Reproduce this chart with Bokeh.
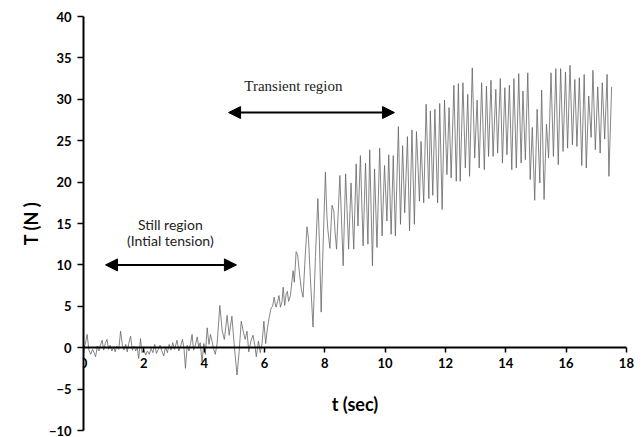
from bokeh.plotting import figure
from bokeh.models import Range1d, Arrow, NormalHead, Label, FixedTicker
from bokeh.embed import file_html
from bokeh.resources import INLINE

# ---- data ----
t_still = [0.00, 0.06, 0.12, 0.18, 0.24, 0.30, 0.35, 0.40, 0.46, 0.51, 0.56, 0.62, 0.67, 0.72, 0.78,
           0.83, 0.88, 0.94, 1.00, 1.05, 1.10, 1.17, 1.23, 1.29, 1.34, 1.40, 1.45, 1.50, 1.56, 1.62,
           1.68, 1.73, 1.78, 1.83, 1.89, 1.94, 2.00, 2.06, 2.12, 2.18, 2.24, 2.30, 2.36, 2.42, 2.48,
           2.54, 2.60, 2.66, 2.72, 2.78, 2.84, 2.90, 2.96, 3.02, 3.10, 3.16, 3.22, 3.28, 3.33, 3.38,
           3.44, 3.50, 3.55, 3.60, 3.65, 3.71, 3.77, 3.82, 3.87, 3.93, 3.99, 4.04, 4.10, 4.16, 4.21,
           4.26, 4.32, 4.37, 4.43]
T_still = [0.0, 0.4, 1.6, -0.3, -0.8, -0.2, -0.6, -1.1, 0.2, -0.4, 0.3, 0.9, -0.3, 0.5, 1.0,
           -0.2, 0.3, -0.4, 0.1, -0.5, 0.2, -0.2, 2.0, 0.3, -0.3, 0.4, -0.5, 0.5, 1.4, -0.3,
           0.2, -0.4, 0.1, -1.3, 1.1, -0.6, -0.2, -0.9, -0.4, -0.8, -0.1, -0.6, 0.4, -0.7, -0.2,
           0.3, -0.4, -1.0, 0.1, -0.6, 0.4, -0.3, 0.6, -0.2, 0.9, -0.4, 0.2, 1.0, 0.0, -2.5,
           0.3, -0.4, 0.5, 1.6, -0.3, 0.3, 1.3, 0.1, 0.6, -1.7, 0.5, -0.8, 2.4, 0.4, 1.6,
           0.8, -0.2, -0.8, 0.5]

t_transient = [4.52, 4.60, 4.67, 4.76, 4.83, 4.92, 5.00, 5.09, 5.16, 5.23, 5.30, 5.36, 5.42, 5.48,
               5.55, 5.62, 5.68, 5.73, 5.80, 5.86, 5.92, 5.98, 6.04, 6.10, 6.16, 6.22, 6.27, 6.32,
               6.38, 6.44, 6.48, 6.53, 6.58, 6.62, 6.67, 6.72, 6.76, 6.80, 6.86, 6.95, 6.99, 7.05,
               7.10, 7.16, 7.22, 7.28, 7.35, 7.41, 7.46, 7.52, 7.61, 7.69, 7.77, 7.82, 7.88, 7.95,
               8.02, 8.07, 8.10, 8.17, 8.24, 8.30, 8.34, 8.39, 8.50, 8.61, 8.69, 8.79, 8.87, 8.96,
               9.04, 9.10, 9.18, 9.27, 9.35, 9.43, 9.49, 9.58, 9.65, 9.73, 9.82, 9.90, 9.98, 10.06,
               10.12, 10.20, 10.27, 10.34, 10.44, 10.51, 10.58, 10.65, 10.74, 10.81, 10.89, 10.97]
T_transient = [5.1, 2.0, 1.0, 3.9, 1.5, 3.8, 0.2, -3.3, -0.5, 3.2, 1.9, 1.0, 2.0, -0.5,
               0.8, 1.5, 0.3, -1.1, 0.8, -0.6, 0.5, 3.2, 0.5, 2.4, 3.7, 4.8, 5.0, 6.1,
               4.9, 5.6, 6.3, 4.9, 5.5, 7.3, 5.1, 6.5, 6.8, 5.6, 6.3, 9.3, 7.9, 11.6,
               11.2, 9.0, 7.1, 6.1, 11.0, 14.6, 13.2, 8.5, 2.5, 11.0, 18.0, 13.0, 4.3, 13.0,
               21.2, 16.0, 14.3, 12.0, 17.2, 16.5, 14.0, 11.9, 20.8, 9.9, 21.0, 11.9, 19.9, 11.9,
               22.2, 14.7, 23.2, 12.3, 22.3, 12.5, 23.9, 9.9, 21.6, 12.1, 24.1, 13.5, 22.0, 15.3,
               23.3, 13.7, 23.2, 13.5, 26.7, 14.9, 24.4, 16.3, 25.5, 14.1, 26.3, 14.9]

t_steady = [11.04, 11.14, 11.19, 11.28, 11.36, 11.45, 11.50, 11.58, 11.65, 11.74, 11.81, 11.89,
            11.97, 12.05, 12.12, 12.19, 12.28, 12.36, 12.43, 12.49, 12.58, 12.66, 12.74, 12.80,
            12.89, 12.97, 13.05, 13.12, 13.20, 13.29, 13.36, 13.43, 13.51, 13.58, 13.67, 13.73,
            13.82, 13.89, 13.97, 14.04, 14.12, 14.20, 14.27, 14.35, 14.43, 14.51, 14.57, 14.65,
            14.73, 14.81, 14.88, 14.96, 15.04, 15.13, 15.19, 15.27, 15.35, 15.42, 15.50, 15.58,
            15.66, 15.74, 15.82, 15.90, 15.98, 16.05, 16.13, 16.21, 16.29, 16.36, 16.44, 16.52,
            16.60, 16.67, 16.75, 16.83, 16.89, 16.97, 17.05, 17.13, 17.20, 17.28, 17.36, 17.42,
            17.51]
T_steady = [26.1, 17.7, 24.9, 17.5, 29.4, 18.0, 28.6, 18.4, 28.8, 17.5, 29.5, 16.7,
            29.9, 20.9, 29.0, 20.5, 31.7, 20.1, 31.9, 20.1, 32.0, 21.7, 30.6, 20.7,
            33.8, 22.9, 29.9, 21.7, 32.0, 21.5, 31.6, 23.1, 32.3, 23.1, 31.2, 23.5,
            32.5, 22.3, 31.4, 23.3, 31.7, 21.5, 32.5, 21.7, 33.1, 22.3, 31.0, 22.7,
            33.2, 20.3, 26.6, 17.8, 28.8, 19.9, 31.1, 17.9, 27.0, 22.9, 33.2, 23.1,
            33.7, 22.1, 33.7, 23.7, 33.3, 24.1, 34.1, 24.5, 32.4, 24.3, 32.6, 22.0,
            33.0, 21.7, 30.4, 25.4, 33.5, 23.9, 31.5, 23.5, 32.0, 25.2, 33.0, 20.7,
            31.5]

x_ticks = [0, 2, 4, 6, 8, 10, 12, 14, 16, 18]
y_ticks = [-10, -5, 0, 5, 10, 15, 20, 25, 30, 35, 40]

still_arrow_t = (0.73, 5.07)
still_arrow_T = 10.0
trans_arrow_t = (4.81, 10.31)
trans_arrow_T = 28.4

t_all = t_still + t_transient + t_steady
T_all = T_still + T_transient + T_steady

p = figure(width=644, height=437, output_backend="svg", toolbar_location=None,
           x_range=Range1d(0, 18.6), y_range=Range1d(-10, 40),
           min_border_left=83, min_border_right=0, min_border_top=16, min_border_bottom=7)
p.outline_line_color = None
p.xgrid.visible = False
p.ygrid.visible = False
p.background_fill_color = "white"
p.border_fill_color = "white"

p.line(t_all, T_all, line_color="#666666", line_width=0.8)

FONT = "Lato"
# x axis at T = 0
xa = p.xaxis[0]
xa.fixed_location = 0
xa.bounds = (0, 18)
xa.ticker = FixedTicker(ticks=x_ticks)
xa.axis_line_color = "black"
xa.axis_line_width = 2
xa.major_tick_line_color = "black"
xa.major_tick_line_width = 1.5
xa.major_tick_in = 0
xa.major_tick_out = 5
xa.minor_tick_line_color = None
xa.major_label_text_font = FONT
xa.major_label_text_font_style = "bold"
xa.major_label_text_font_size = "13px"
xa.major_label_text_color = "black"
xa.major_label_standoff = 5
xa.axis_label = "t (sec)"
xa.axis_label_text_font = FONT
xa.axis_label_text_font_style = "bold"
xa.axis_label_text_font_size = "18px"
xa.axis_label_text_color = "black"
xa.axis_label_standoff = 22

ya = p.yaxis[0]
ya.ticker = FixedTicker(ticks=y_ticks)
ya.axis_line_color = "black"
ya.axis_line_width = 2
ya.major_tick_line_color = "black"
ya.major_tick_line_width = 1.5
ya.major_tick_in = 0
ya.major_tick_out = 6
ya.minor_tick_line_color = None
ya.major_label_text_font = FONT
ya.major_label_text_font_style = "bold"
ya.major_label_text_font_size = "13px"
ya.major_label_text_color = "black"
ya.major_label_standoff = 6
ya.axis_label = "T (N )"
ya.axis_label_text_font = FONT
ya.axis_label_text_font_style = "bold"
ya.axis_label_text_font_size = "18px"
ya.axis_label_text_color = "black"
ya.axis_label_standoff = 4

def head():
    return NormalHead(size=12, fill_color="black", line_color="black")

p.add_layout(Arrow(start=head(), end=head(), x_start=still_arrow_t[0], x_end=still_arrow_t[1],
                   y_start=still_arrow_T, y_end=still_arrow_T, line_width=2, line_color="black"))
p.add_layout(Arrow(start=head(), end=head(), x_start=trans_arrow_t[0], x_end=trans_arrow_t[1],
                   y_start=trans_arrow_T, y_end=trans_arrow_T, line_width=2, line_color="black"))

p.add_layout(Label(x=2.88, y=14.9, text="Still region", text_font=FONT, text_font_size="14px",
                   text_align="center", text_baseline="middle", text_color="#222222"))
p.add_layout(Label(x=2.88, y=12.9, text="(Intial tension)", text_font=FONT, text_font_size="14px",
                   text_align="center", text_baseline="middle", text_color="#222222"))
p.add_layout(Label(x=6.96, y=31.6, text="Transient region", text_font="Liberation Serif",
                   text_font_size="15px", text_align="center", text_baseline="middle",
                   text_color="#222222"))

open("out.html", "w").write(file_html(p, INLINE))
